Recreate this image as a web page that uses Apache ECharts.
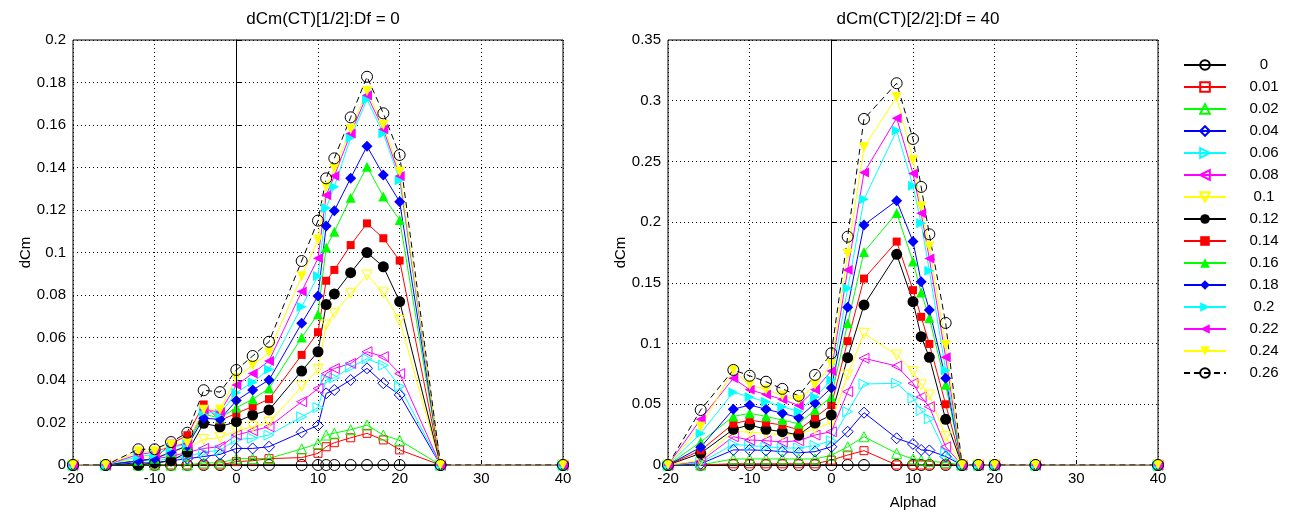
<!DOCTYPE html>
<html>
<head>
<meta charset="utf-8">
<script src="https://cdn.jsdelivr.net/npm/echarts@6/dist/echarts.min.js"></script>
<style>
  html, body { margin: 0; padding: 0; background: #fff; }
  #chart { width: 1289px; height: 516px; }
</style>
</head>
<body>
<div id="chart"></div>
<script>
// angle of attack, shared by both panels
const alphad = [-20, -16, -12, -10, -8, -6, -4, -2, 0, 2, 4, 8, 10, 11, 12, 14, 16, 18, 20, 25, 40];
const ctLabels = ['0', '0.01', '0.02', '0.04', '0.06', '0.08', '0.1', '0.12', '0.14', '0.16', '0.18', '0.2', '0.22', '0.24', '0.26'];

// panel 1: Df = 0
const df0_ct000 = [0, 0, 0, 0, 0, 0, 0, 0, 0, 0, 0, 0, 0, 0, 0, 0, 0, 0, 0, 0, 0];
const df0_ct001 = [0, 0, 0, 0, 0, 0, 0, 0, 0.0016, 0.002, 0.003, 0.0035, 0.0055, 0.0086, 0.0105, 0.0128, 0.0149, 0.0118, 0.0071, 0, 0];
const df0_ct002 = [0, 0, 0, 0, 0, 0, 0.001, 0.001, 0.003, 0.003, 0.0031, 0.0076, 0.0101, 0.0141, 0.015, 0.0166, 0.0188, 0.0141, 0.0116, 0, 0];
const df0_ct004 = [0, 0, 0.001, 0.001, 0.002, 0.003, 0.004, 0.005, 0.0078, 0.0078, 0.0086, 0.0154, 0.0186, 0.0337, 0.0353, 0.040, 0.0455, 0.0385, 0.033, 0, 0];
const df0_ct006 = [0, 0, 0.002, 0.002, 0.003, 0.004, 0.006, 0.007, 0.012, 0.0126, 0.0141, 0.0227, 0.027, 0.040, 0.041, 0.046, 0.050, 0.047, 0.037, 0, 0];
const df0_ct008 = [0, 0, 0.002, 0.003, 0.004, 0.006, 0.0078, 0.0086, 0.0141, 0.0161, 0.018, 0.0298, 0.036, 0.043, 0.0454, 0.0478, 0.0533, 0.051, 0.043, 0, 0];
const df0_ct010 = [0, 0, 0.003, 0.004, 0.006, 0.008, 0.012, 0.013, 0.016, 0.018, 0.02, 0.0369, 0.045, 0.0659, 0.0714, 0.0808, 0.0894, 0.081, 0.068, 0, 0];
const df0_ct012 = [0, 0, 0, 0.001, 0.002, 0.006, 0.0196, 0.018, 0.0204, 0.0235, 0.0259, 0.0442, 0.0533, 0.0755, 0.0805, 0.0905, 0.1, 0.0933, 0.0769, 0, 0];
const df0_ct014 = [0, 0, 0.002, 0.003, 0.01, 0.014, 0.0285, 0.021, 0.0243, 0.0275, 0.031, 0.0518, 0.0625, 0.0867, 0.0918, 0.1035, 0.1137, 0.1067, 0.0962, 0, 0];
const df0_ct016 = [0, 0, 0.002, 0.003, 0.006, 0.009, 0.024, 0.022, 0.027, 0.031, 0.036, 0.060, 0.071, 0.1024, 0.1098, 0.1258, 0.1404, 0.1263, 0.1153, 0, 0];
const df0_ct018 = [0, 0, 0.002, 0.003, 0.006, 0.009, 0.022, 0.0215, 0.0303, 0.0353, 0.040, 0.0667, 0.0795, 0.1125, 0.1197, 0.135, 0.150, 0.1365, 0.1239, 0, 0];
const df0_ct020 = [0, 0, 0.004, 0.005, 0.008, 0.010, 0.025, 0.024, 0.034, 0.039, 0.045, 0.0745, 0.089, 0.121, 0.131, 0.154, 0.172, 0.156, 0.134, 0, 0];
const df0_ct022 = [0, 0, 0.005, 0.006, 0.009, 0.010, 0.026, 0.025, 0.0376, 0.0431, 0.049, 0.0816, 0.0973, 0.127, 0.136, 0.156, 0.174, 0.158, 0.136, 0, 0];
const df0_ct024 = [0, 0, 0.0063, 0.0063, 0.0094, 0.0105, 0.026, 0.026, 0.041, 0.047, 0.053, 0.0888, 0.106, 0.131, 0.1396, 0.158, 0.176, 0.160, 0.138, 0, 0];
const df0_ct026 = [0, 0, 0.0074, 0.0074, 0.0108, 0.0152, 0.0352, 0.0343, 0.0447, 0.0513, 0.058, 0.096, 0.115, 0.1349, 0.1443, 0.1636, 0.1827, 0.1655, 0.1459, 0, 0];

// panel 2: Df = 40
const df40_ct000 = [0, 0, 0, 0, 0, 0, 0, 0, 0, 0, 0, 0, 0, 0, 0, 0, 0, 0, 0, 0, 0];
const df40_ct001 = [0, 0, 0.001, 0.001, 0.001, 0.001, 0.001, 0.001, 0.004, 0.0082, 0.0118, 0, 0, 0, 0, 0, 0, 0, 0, 0, 0];
const df40_ct002 = [0, 0, 0.005, 0.005, 0.005, 0.005, 0.005, 0.005, 0.008, 0.015, 0.0233, 0.0096, 0.005, 0.004, 0.003, 0.002, 0, 0, 0, 0, 0];
const df40_ct004 = [0, 0.001, 0.0124, 0.0124, 0.012, 0.011, 0.010, 0.011, 0.015, 0.0274, 0.0431, 0.022, 0.0173, 0.0124, 0.012, 0.007, 0, 0, 0, 0, 0];
const df40_ct006 = [0, 0.002, 0.017, 0.016, 0.015, 0.014, 0.014, 0.016, 0.02, 0.0439, 0.0667, 0.0673, 0.055, 0.045, 0.038, 0.01, 0, 0, 0, 0, 0];
const df40_ct008 = [0, 0.003, 0.0233, 0.0206, 0.02, 0.019, 0.02, 0.0247, 0.0274, 0.0604, 0.0879, 0.0815, 0.0673, 0.056, 0.048, 0.015, 0, 0, 0, 0, 0];
const df40_ct010 = [0, 0.004, 0.028, 0.027, 0.026, 0.025, 0.025, 0.03, 0.035, 0.074, 0.1085, 0.0906, 0.0769, 0.066, 0.0577, 0.0233, 0, 0, 0, 0, 0];
const df40_ct012 = [0, 0.0096, 0.0294, 0.033, 0.0294, 0.0274, 0.0247, 0.0345, 0.0412, 0.0884, 0.1318, 0.1735, 0.1345, 0.1057, 0.0887, 0.0376, 0, 0, 0, 0, 0];
const df40_ct014 = [0, 0.012, 0.034, 0.037, 0.0349, 0.0329, 0.029, 0.039, 0.0494, 0.102, 0.1535, 0.184, 0.144, 0.122, 0.0997, 0.050, 0, 0, 0, 0, 0];
const df40_ct016 = [0, 0.019, 0.040, 0.0426, 0.040, 0.037, 0.034, 0.0453, 0.056, 0.1167, 0.1755, 0.2075, 0.1675, 0.142, 0.121, 0.066, 0, 0, 0, 0, 0];
const df40_ct018 = [0, 0.0146, 0.0459, 0.0494, 0.0459, 0.0426, 0.039, 0.0508, 0.0635, 0.130, 0.1977, 0.2177, 0.184, 0.151, 0.1277, 0.0714, 0, 0, 0, 0, 0];
const df40_ct020 = [0, 0.026, 0.060, 0.056, 0.052, 0.048, 0.044, 0.056, 0.070, 0.1455, 0.2188, 0.2754, 0.230, 0.199, 0.160, 0.078, 0, 0, 0, 0, 0];
const df40_ct022 = [0, 0.0376, 0.0714, 0.062, 0.058, 0.054, 0.049, 0.062, 0.0775, 0.1606, 0.2408, 0.2856, 0.240, 0.2073, 0.170, 0.0887, 0, 0, 0, 0, 0];
const df40_ct024 = [0, 0.0316, 0.078, 0.0659, 0.062, 0.057, 0.0535, 0.066, 0.083, 0.174, 0.2617, 0.303, 0.251, 0.2128, 0.180, 0.0988, 0, 0, 0, 0, 0];
const df40_ct026 = [0, 0.0453, 0.0783, 0.0735, 0.0686, 0.0627, 0.057, 0.0742, 0.092, 0.188, 0.285, 0.3144, 0.2685, 0.229, 0.190, 0.117, 0, 0, 0, 0, 0];

const df0Rows = [df0_ct000, df0_ct001, df0_ct002, df0_ct004, df0_ct006, df0_ct008, df0_ct010, df0_ct012,
  df0_ct014, df0_ct016, df0_ct018, df0_ct020, df0_ct022, df0_ct024, df0_ct026];
const df40Rows = [df40_ct000, df40_ct001, df40_ct002, df40_ct004, df40_ct006, df40_ct008, df40_ct010, df40_ct012,
  df40_ct014, df40_ct016, df40_ct018, df40_ct020, df40_ct022, df40_ct024, df40_ct026];

// matlab-ish line specs, one per CT value
const lineColors = ['#000000', '#ff0000', '#00ff00', '#0000ff', '#00ffff', '#ff00ff', '#ffff00',
  '#000000', '#ff0000', '#00ff00', '#0000ff', '#00ffff', '#ff00ff', '#ffff00', '#000000'];
const markerShapes = ['circle', 'rect', 'triangle', 'diamond', 'triangle', 'triangle', 'triangle',
  'circle', 'rect', 'triangle', 'diamond', 'triangle', 'triangle', 'triangle', 'circle'];
const markerTurns = [0, 0, 0, 0, -90, 90, 180, 0, 0, 0, 0, -90, 90, 180, 0];
const markerSize = { circle: 11, rect: 8, triangle: 10, diamond: 11 };

const FONT = 'Liberation Sans, Arial, sans-serif';

function buildSeries(rows, axisIdx) {
  return rows.map((row, i) => {
    const c = lineColors[i];
    const filled = i >= 7 && i <= 13;
    const s = {
      name: ctLabels[i],
      type: 'line',
      xAxisIndex: axisIdx,
      yAxisIndex: axisIdx,
      data: alphad.map((a, k) => [a, row[k]]),
      symbol: markerShapes[i],
      symbolSize: markerSize[markerShapes[i]],
      symbolRotate: markerTurns[i],
      showAllSymbol: true,
      lineStyle: { color: c, width: 1, type: i === 14 ? [6, 4] : 'solid' },
      itemStyle: filled
        ? { color: c, borderColor: c, borderWidth: 0 }
        : { color: 'rgba(255,255,255,0)', borderColor: c, borderWidth: 1 },
      emphasis: { disabled: true },
      z: 3
    };
    if (i === 0) {
      // solid reference line at alpha = 0
      s.markLine = {
        silent: true,
        symbol: 'none',
        animation: false,
        label: { show: false },
        lineStyle: { color: '#000', type: 'solid', width: 1 },
        data: [{ xAxis: 0 }]
      };
    }
    return s;
  });
}

function xAxisCfg(idx, name) {
  return {
    type: 'value', gridIndex: idx, min: -20, max: 40, interval: 10,
    name: name, nameLocation: 'middle', nameGap: 30,
    nameTextStyle: { color: '#000', fontSize: 15, fontFamily: FONT },
    axisLine: { show: true, lineStyle: { color: '#000', width: 1 } },
    axisTick: { show: true, inside: true, length: 5, lineStyle: { color: '#000' } },
    axisLabel: { color: '#000', fontSize: 15, fontFamily: FONT, margin: 6 },
    splitLine: { show: true, lineStyle: { color: '#000', type: [1, 3], width: 1 } }
  };
}

function yAxisCfg(idx, max, interval) {
  return {
    type: 'value', gridIndex: idx, min: 0, max: max, interval: interval,
    name: 'dCm', nameLocation: 'middle', nameGap: 36, nameRotate: 90,
    nameTextStyle: { color: '#000', fontSize: 15, fontFamily: FONT },
    axisLine: { show: true, lineStyle: { color: '#000', width: 1 } },
    axisTick: { show: true, inside: true, length: 5, lineStyle: { color: '#000' } },
    axisLabel: { color: '#000', fontSize: 15, fontFamily: FONT, margin: 7 },
    splitLine: { show: true, lineStyle: { color: '#000', type: [1, 3], width: 1 } }
  };
}

const chart = echarts.init(document.getElementById('chart'), null, { renderer: 'canvas', width: 1289, height: 516 });
chart.setOption({
  animation: false,
  backgroundColor: '#ffffff',
  title: [
    { text: 'dCm(CT)[1/2]:Df = 0', left: 318, top: 6, textAlign: 'center',
      textStyle: { color: '#000', fontSize: 17, fontWeight: 'normal', fontFamily: FONT } },
    { text: 'dCm(CT)[2/2]:Df = 40', left: 913, top: 6, textAlign: 'center',
      textStyle: { color: '#000', fontSize: 17, fontWeight: 'normal', fontFamily: FONT } }
  ],
  grid: [
    { left: 73, top: 40, width: 490, height: 425, show: true, borderColor: '#000', borderWidth: 1, backgroundColor: '#fff' },
    { left: 668, top: 40, width: 490, height: 425, show: true, borderColor: '#000', borderWidth: 1, backgroundColor: '#fff' }
  ],
  xAxis: [xAxisCfg(0, ''), xAxisCfg(1, 'Alphad')],
  yAxis: [yAxisCfg(0, 0.2, 0.02), yAxisCfg(1, 0.35, 0.05)],
  legend: {
    orient: 'vertical',
    left: 1178,
    top: 52,
    itemWidth: 42,
    itemHeight: 12,
    itemGap: 6,
    selectedMode: false,
    data: ctLabels,
    formatter: name => '{v|' + name + '}',
    textStyle: {
      color: '#000', fontSize: 15, fontFamily: FONT, lineHeight: 16,
      rich: { v: { width: 66, align: 'center', fontSize: 15, fontFamily: FONT, lineHeight: 16 } }
    }
  },
  series: buildSeries(df0Rows, 0).concat(buildSeries(df40Rows, 1))
});
</script>
</body>
</html>
